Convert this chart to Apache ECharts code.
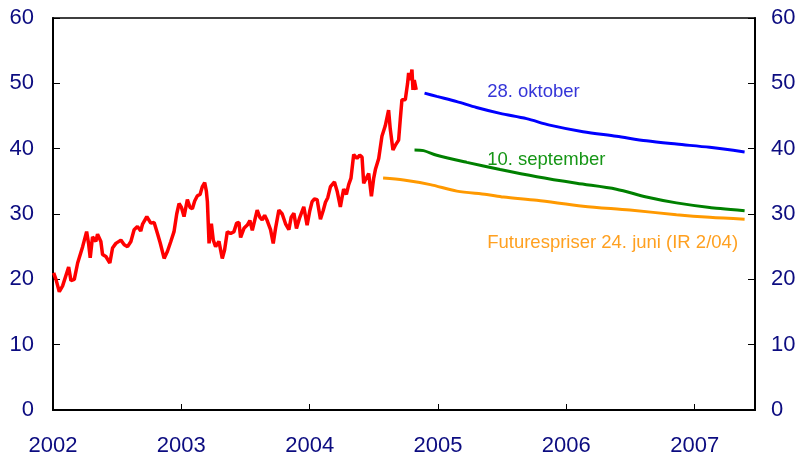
<!DOCTYPE html>
<html>
<head>
<meta charset="utf-8">
<script src="https://cdn.jsdelivr.net/npm/echarts@6.0.0/dist/echarts.min.js"></script>
<style>
  html, body { margin: 0; padding: 0; background: #fff; }
  #chart { width: 803px; height: 458px; }
</style>
</head>
<body>
<div id="chart"></div>
<script>
// Oljepris (daglig), lest av figuren, tid i desimalår
const oilDates = [
  2002.005, 2002.023, 2002.049, 2002.075, 2002.122, 2002.140, 2002.166, 2002.192, 2002.231, 2002.262,
  2002.277, 2002.290, 2002.308, 2002.334, 2002.347, 2002.373, 2002.386, 2002.412, 2002.443, 2002.464,
  2002.490, 2002.529, 2002.555, 2002.581, 2002.607, 2002.632, 2002.658, 2002.684, 2002.697, 2002.731,
  2002.762, 2002.788, 2002.814, 2002.835, 2002.866, 2002.892, 2002.918, 2002.943, 2002.964, 2002.982,
  2003.001, 2003.021, 2003.047, 2003.068, 2003.086, 2003.104, 2003.125, 2003.146, 2003.164, 2003.182,
  2003.195, 2003.203, 2003.216, 2003.234, 2003.249, 2003.267, 2003.293, 2003.319, 2003.337, 2003.358,
  2003.384, 2003.410, 2003.431, 2003.449, 2003.462, 2003.488, 2003.514, 2003.534, 2003.553, 2003.566,
  2003.591, 2003.612, 2003.630, 2003.649, 2003.669, 2003.695, 2003.716, 2003.734, 2003.760, 2003.786,
  2003.812, 2003.838, 2003.856, 2003.877, 2003.897, 2003.923, 2003.954, 2003.980, 2004.001, 2004.019,
  2004.037, 2004.058, 2004.084, 2004.105, 2004.123, 2004.141, 2004.162, 2004.193, 2004.214, 2004.239,
  2004.252, 2004.265, 2004.286, 2004.304, 2004.322, 2004.343, 2004.369, 2004.390, 2004.408, 2004.421,
  2004.442, 2004.460, 2004.481, 2004.499, 2004.512, 2004.538, 2004.563, 2004.589, 2004.615, 2004.628,
  2004.649, 2004.667, 2004.693, 2004.706, 2004.719, 2004.745, 2004.763, 2004.771, 2004.784, 2004.797,
  2004.805, 2004.815, 2004.830
];
const oilPrices = [
  21.0, 20.0, 18.1, 19.0, 21.9, 19.8, 20.0, 22.5, 25.0, 27.3,
  25.5, 23.3, 26.5, 25.8, 26.9, 25.8, 23.8, 23.5, 22.5, 24.8,
  25.5, 26.0, 25.3, 25.0, 25.8, 27.6, 28.1, 27.4, 28.4, 29.6,
  28.6, 28.7, 27.0, 25.6, 23.2, 24.3, 25.8, 27.3, 30.0, 31.6,
  31.0, 29.6, 32.2, 31.0, 30.8, 32.0, 32.8, 33.0, 34.2, 34.8,
  33.5, 31.9, 25.5, 28.5, 26.0, 25.0, 25.8, 23.2, 24.5, 27.3,
  27.0, 27.3, 28.6, 28.7, 26.4, 27.8, 28.3, 29.0, 27.5, 27.6,
  30.6, 29.5, 29.1, 29.8, 29.0, 27.6, 25.5, 27.8, 30.6, 30.0,
  28.5, 27.6, 29.5, 30.1, 27.8, 29.5, 31.1, 28.3, 30.5, 31.9,
  32.3, 32.2, 29.2, 30.5, 31.8, 32.5, 34.2, 34.9, 33.5, 31.1,
  32.5, 33.8, 33.0, 34.5, 35.5, 39.1, 38.5, 39.0, 38.7, 34.7,
  35.5, 36.2, 32.7, 35.5, 36.8, 38.5, 41.9, 43.5, 45.9, 43.0,
  39.8, 40.5, 41.3, 44.5, 47.5, 47.5, 50.0, 51.6, 50.5, 52.1,
  49.0, 50.5, 49.0
];

// Futurespriser 28. oktober
const octDates = [2004.895, 2004.990, 2005.147, 2005.300, 2005.484, 2005.690, 2005.870, 2006.130, 2006.390, 2006.624, 2006.858, 2007.117, 2007.389];
const octPrices = [48.5, 48.0, 47.2, 46.3, 45.4, 44.6, 43.6, 42.6, 41.9, 41.2, 40.7, 40.2, 39.5];

// Futurespriser 10. september
const sepDates = [2004.817, 2004.887, 2004.990, 2005.225, 2005.484, 2005.770, 2006.080, 2006.390, 2006.624, 2006.858, 2007.117, 2007.389];
const sepPrices = [39.8, 39.7, 39.0, 37.9, 36.8, 35.7, 34.7, 33.8, 32.6, 31.7, 31.0, 30.5];

// Futurespriser 24. juni (IR 2/04)
const junDates = [2004.572, 2004.732, 2004.940, 2005.147, 2005.380, 2005.510, 2005.770, 2006.130, 2006.495, 2006.858, 2007.117, 2007.389];
const junPrices = [35.5, 35.2, 34.5, 33.5, 33.0, 32.6, 32.1, 31.2, 30.6, 29.9, 29.5, 29.2];

const yearTicks = [2002, 2003, 2004, 2005, 2006, 2007];

const zip = (xs, ys) => xs.map((x, i) => [x, ys[i]]);

const navy = '#0c0c80';
const font = "'Liberation Sans', Arial, sans-serif";

const chart = echarts.init(document.getElementById('chart'), null, { renderer: 'canvas' });

const yAxisBase = {
  type: 'value', min: 0, max: 60, interval: 10,
  axisLine: { show: true, lineStyle: { color: '#000', width: 2 } },
  axisTick: { show: true, inside: true, length: 7, lineStyle: { color: '#000', width: 1 } },
  axisLabel: { color: navy, fontSize: 22, fontFamily: font, margin: 19 },
  splitLine: { show: false }
};

chart.setOption({
  animation: false,
  grid: { left: 53, right: 48, top: 18, bottom: 48, show: true, borderColor: '#000', borderWidth: 1.5 },
  xAxis: {
    type: 'value', min: 2002, max: 2007.47, interval: 1,
    axisLine: { onZero: false, lineStyle: { color: '#000', width: 2 } },
    axisTick: { inside: true, length: 6, lineStyle: { color: '#000', width: 1 } },
    axisLabel: {
      color: navy, fontSize: 22, fontFamily: font, margin: 25, showMaxLabel: false,
      formatter: v => yearTicks.includes(Math.round(v * 1000) / 1000) ? String(v) : ''
    },
    splitLine: { show: false }
  },
  yAxis: [
    Object.assign({}, yAxisBase, { position: 'left' }),
    Object.assign({}, yAxisBase, { position: 'right', axisLabel: Object.assign({}, yAxisBase.axisLabel, { margin: 16 }) })
  ],
  series: [
    { name: 'Oljepris', type: 'line', data: zip(oilDates, oilPrices), showSymbol: false, lineStyle: { color: '#ff0000', width: 3.5 }, z: 5 },
    { name: '28. oktober', type: 'line', data: zip(octDates, octPrices), showSymbol: false, smooth: 0.3, lineStyle: { color: '#0000ff', width: 3 } },
    { name: '10. september', type: 'line', data: zip(sepDates, sepPrices), showSymbol: false, smooth: 0.3, lineStyle: { color: '#008000', width: 3 } },
    { name: 'Futurespriser 24. juni (IR 2/04)', type: 'line', data: zip(junDates, junPrices), showSymbol: false, smooth: 0.3, lineStyle: { color: '#ff9900', width: 3 } }
  ]
});

// Tekstetiketter, plassert i datakoordinater
const labels = [
  { text: '28. oktober', at: [2005.383, 48.7], color: '#3535d8' },
  { text: '10. september', at: [2005.383, 38.3], color: '#169616' },
  { text: 'Futurespriser 24. juni (IR 2/04)', at: [2005.383, 25.6], color: '#ffa020' }
];
chart.setOption({
  graphic: labels.map(l => {
    const p = chart.convertToPixel({ gridIndex: 0 }, l.at);
    return {
      type: 'text', x: p[0], y: p[1], z: 10,
      style: { text: l.text, fill: l.color, fontSize: 18.5, fontFamily: font, verticalAlign: 'middle', align: 'left' }
    };
  })
});
</script>
</body>
</html>
